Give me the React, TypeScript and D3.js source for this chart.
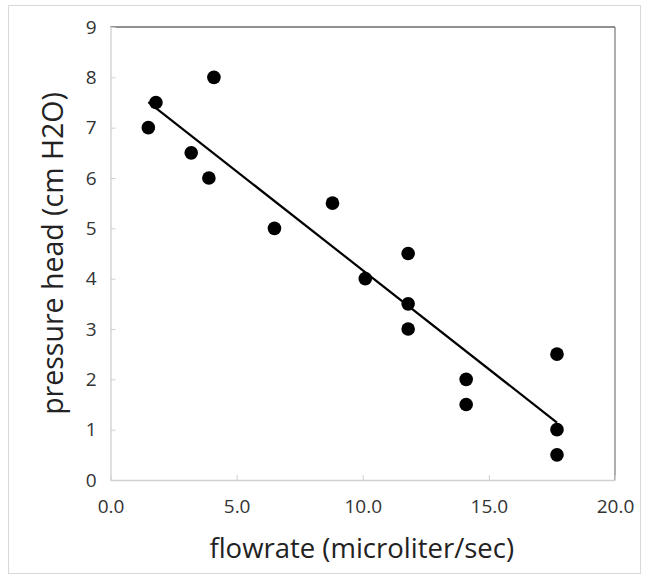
import React, { useRef, useEffect } from "react";
import * as d3 from "d3";

const flowrate = [1.5, 1.8, 3.2, 3.9, 4.1, 6.5, 8.8, 10.1, 11.8, 11.8, 11.8, 14.1, 14.1, 17.7, 17.7, 17.7];
const pressure = [7, 7.5, 6.5, 6, 8, 5, 5.5, 4, 4.5, 3.5, 3, 2, 1.5, 2.5, 1, 0.5];
const xTicks = [0, 5, 10, 15, 20];
const yTicks = [0, 1, 2, 3, 4, 5, 6, 7, 8, 9];

const font = "'Open Sans', 'Liberation Sans', sans-serif";

function App() {
  const ref = useRef<SVGSVGElement>(null);

  useEffect(() => {
    const svg = d3.select(ref.current);
    svg.selectAll("*").remove();

    const left = 110.5, right = 615, top = 27, bottom = 480;
    const x = d3.scaleLinear().domain([0, 20]).range([left, right]);
    const y = d3.scaleLinear().domain([0, 9]).range([bottom, top]);

    // outer frame
    svg.append("rect")
      .attr("x", 8.5).attr("y", 5.5).attr("width", 632).attr("height", 568)
      .attr("fill", "#fff").attr("stroke", "#d9d9d9");

    // plot border (top and right darker)
    svg.append("line").attr("x1", left).attr("x2", right).attr("y1", top).attr("y2", top)
      .attr("stroke", "#222").attr("stroke-width", 1);
    svg.append("line").attr("x1", right).attr("x2", right).attr("y1", top).attr("y2", bottom)
      .attr("stroke", "#777").attr("stroke-width", 1.2);

    // axes
    const xAxis = svg.append("g").attr("transform", `translate(0,${bottom})`)
      .call(d3.axisBottom(x).tickValues(xTicks).tickSizeInner(-5).tickSizeOuter(0).tickFormat(d3.format(".1f")));
    const yAxis = svg.append("g").attr("transform", `translate(${left},0)`)
      .call(d3.axisLeft(y).tickValues(yTicks).tickSizeInner(-5).tickSizeOuter(0));

    [xAxis, yAxis].forEach((g) => {
      g.select(".domain").attr("stroke", "#d0d0d0").attr("stroke-width", 1.3);
      g.selectAll(".tick line").attr("stroke", "#d0d0d0");
      g.selectAll(".tick text")
        .attr("fill", "#333")
        .style("font-family", font)
        .style("font-size", "19px");
    });
    xAxis.selectAll(".tick text").attr("dy", 0).attr("y", 33);
    yAxis.selectAll(".tick text").attr("x", -14);

    // trendline (least squares)
    const mx = d3.mean(flowrate)!;
    const my = d3.mean(pressure)!;
    const sxy = d3.sum(flowrate, (v, i) => (v - mx) * (pressure[i] - my));
    const sxx = d3.sum(flowrate, (v) => (v - mx) * (v - mx));
    const slope = sxy / sxx;
    const icpt = my - slope * mx;
    const [x0, x1] = d3.extent(flowrate) as [number, number];
    svg.append("line")
      .attr("x1", x(x0)).attr("y1", y(icpt + slope * x0))
      .attr("x2", x(x1)).attr("y2", y(icpt + slope * x1))
      .attr("stroke", "#000").attr("stroke-width", 2.2);

    // points
    svg.selectAll("circle.pt")
      .data(flowrate)
      .enter()
      .append("circle")
      .attr("class", "pt")
      .attr("cx", (d) => x(d))
      .attr("cy", (d, i) => y(pressure[i]))
      .attr("r", 6.8)
      .attr("fill", "#000");

    // axis titles
    svg.append("text")
      .attr("x", (left + right) / 2 - 1).attr("y", 558)
      .attr("text-anchor", "middle")
      .attr("fill", "#222")
      .style("font-family", font).style("font-size", "27.5px")
      .text("flowrate (microliter/sec)");
    svg.append("text")
      .attr("transform", `translate(63,${(top + bottom) / 2}) rotate(-90)`)
      .attr("text-anchor", "middle")
      .attr("fill", "#222")
      .style("font-family", font).style("font-size", "28.5px")
      .text("pressure head (cm H2O)");
  }, []);

  return <svg ref={ref} width={649} height={579} style={{ position: "absolute", left: 0, top: 0 }}></svg>;
}

export default App;
